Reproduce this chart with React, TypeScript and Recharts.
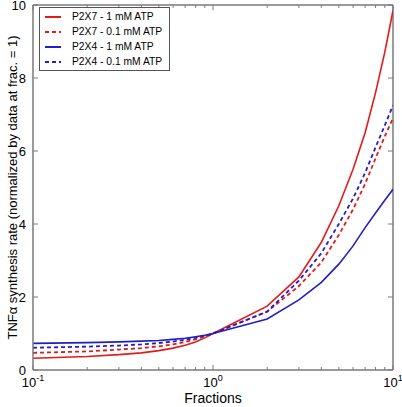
import React from "react";
import { LineChart, Line, XAxis, YAxis, Legend, ReferenceLine } from "recharts";

// fractions (log scale)
const fractions = [0.1, 0.2, 0.3, 0.4, 0.5, 0.6, 0.7, 0.8, 0.9, 1, 2, 3, 4, 5, 6, 7, 8, 9, 10];

const p2x7High = [0.32, 0.37, 0.42, 0.47, 0.53, 0.6, 0.68, 0.77, 0.88, 1.0, 1.75, 2.55, 3.5, 4.5, 5.5, 6.5, 7.6, 8.7, 9.85];
const p2x7Low = [0.47, 0.51, 0.56, 0.6, 0.65, 0.7, 0.77, 0.84, 0.92, 1.0, 1.6, 2.3, 2.95, 3.7, 4.4, 5.1, 5.8, 6.4, 6.9];
const p2x4High = [0.73, 0.75, 0.77, 0.79, 0.81, 0.84, 0.87, 0.91, 0.95, 1.0, 1.4, 1.92, 2.4, 2.9, 3.4, 3.9, 4.3, 4.65, 4.95];
const p2x4Low = [0.61, 0.64, 0.67, 0.7, 0.74, 0.78, 0.83, 0.88, 0.94, 1.0, 1.6, 2.45, 3.2, 4.0, 4.7, 5.4, 6.1, 6.7, 7.25];

const seriesNames = ["P2X7 - 1 mM ATP", "P2X7 - 0.1 mM ATP", "P2X4 - 1 mM ATP", "P2X4 - 0.1 mM ATP"];

const majorTicks = [0.1, 1, 10];
const minorTicks = [0.2, 0.3, 0.4, 0.5, 0.6, 0.7, 0.8, 0.9, 2, 3, 4, 5, 6, 7, 8, 9];
const yTicks = [0, 2, 4, 6, 8, 10];
const exponents: Record<number, string> = { 0.1: "-1", 1: "0", 10: "1" };

const RED = "#e31a1c";
const BLUE = "#1f1fc8";
const AXIS = "#7a7a7a";
const FONT = "Liberation Sans, Arial, sans-serif";

const data = fractions.map((f, i) => ({
  f,
  a: p2x7High[i],
  b: p2x7Low[i],
  c: p2x4High[i],
  d: p2x4Low[i],
}));

const isMajor = (v: number) => majorTicks.includes(v);

// tickSize/tickMargin are 0, so x/y below sit on the axis line
const BottomTick = (props: any) => {
  const { x, y, payload } = props;
  const v = payload.value;
  const len = isMajor(v) ? 5 : 3;
  return (
    <g>
      <line x1={x} x2={x} y1={y} y2={y - len} stroke={AXIS} strokeWidth={1} />
      {isMajor(v) && (
        <text x={x} y={y + 17} textAnchor="middle" fontSize={13} fontFamily={FONT} fill="#000">
          10
          <tspan fontSize={9} dy={-6}>{exponents[v]}</tspan>
        </text>
      )}
    </g>
  );
};

const LeftTick = (props: any) => {
  const { x, y, payload } = props;
  return (
    <g>
      <line x1={x} x2={x + 5} y1={y} y2={y} stroke={AXIS} strokeWidth={1} />
      <text x={x - 7} y={y + 5} textAnchor="end" fontSize={13} fontFamily={FONT} fill="#000">
        {payload.value}
      </text>
    </g>
  );
};

const YLabel = (props: any) => {
  const { viewBox } = props;
  const cx = viewBox.x + 12;
  const cy = viewBox.y + viewBox.height / 2;
  return (
    <text
      x={cx}
      y={cy}
      transform={`rotate(-90, ${cx}, ${cy})`}
      textAnchor="middle"
      dominantBaseline="central"
      fontSize={13}
      fontFamily={FONT}
      fill="#000"
    >
      TNFα synthesis rate (normalized by data at frac. = 1)
    </text>
  );
};

const LegendBox = (props: any) => {
  const items = (props.payload || [])
    .filter((p: any) => seriesNames.includes(p.value))
    .sort((p: any, q: any) => seriesNames.indexOf(p.value) - seriesNames.indexOf(q.value));
  return (
    <div
      style={{
        border: "1px solid #555",
        background: "#fff",
        padding: "1px 7px 1px 5px",
        fontFamily: FONT,
        fontSize: 10.3,
        width: "fit-content",
      }}
    >
      {items.map((entry: any) => (
        <div key={entry.value} style={{ display: "flex", alignItems: "center", height: 15 }}>
          <svg width={20} height={10} style={{ marginRight: 7 }}>
            <line
              x1={0}
              x2={16}
              y1={5}
              y2={5}
              stroke={entry.color}
              strokeWidth={2}
              strokeDasharray={entry.payload.strokeDasharray}
            />
          </svg>
          <span style={{ color: "#000", whiteSpace: "nowrap" }}>{entry.value}</span>
        </div>
      ))}
    </div>
  );
};

// inward tick lengths for the top and right frame edges, in data units
const topTickLen = (v: number) => (isMajor(v) ? 0.14 : 0.08);
const rightTickX = 9.38;

export default function App() {
  return (
    <div style={{ position: "absolute", left: 0, top: 0, background: "#fff" }}>
      <LineChart width={402} height={407} data={data} margin={{ top: 5, right: 9, bottom: 0, left: 0 }}>
        <XAxis
          dataKey="f"
          type="number"
          scale="log"
          domain={[0.1, 10]}
          ticks={[...majorTicks, ...minorTicks]}
          interval={0}
          allowDataOverflow
          height={37}
          axisLine={{ stroke: AXIS, strokeWidth: 1.5 }}
          tickLine={false}
          tickSize={0}
          tickMargin={0}
          tick={<BottomTick />}
          label={{ value: "Fractions", position: "insideBottom", offset: 4, fontSize: 14, fontFamily: FONT, fill: "#000" }}
        />
        <YAxis
          type="number"
          domain={[0, 10]}
          ticks={yTicks}
          interval={0}
          width={33}
          axisLine={{ stroke: AXIS, strokeWidth: 1.5 }}
          tickLine={false}
          tickSize={0}
          tickMargin={0}
          tick={<LeftTick />}
          label={<YLabel />}
        />
        {/* top and right frame edges with inward ticks */}
        <ReferenceLine y={10} stroke={AXIS} strokeWidth={1.5} ifOverflow="visible" />
        <ReferenceLine x={10} stroke={AXIS} strokeWidth={1.5} ifOverflow="visible" />
        {[...majorTicks, ...minorTicks].map((t) => (
          <ReferenceLine
            key={"t" + t}
            segment={[{ x: t, y: 10 }, { x: t, y: 10 - topTickLen(t) }]}
            stroke={AXIS}
            strokeWidth={1}
            ifOverflow="visible"
          />
        ))}
        {yTicks.map((t) => (
          <ReferenceLine
            key={"r" + t}
            segment={[{ x: rightTickX, y: t }, { x: 10, y: t }]}
            stroke={AXIS}
            strokeWidth={1}
            ifOverflow="visible"
          />
        ))}
        <Legend
          layout="vertical"
          verticalAlign="middle"
          align="center"
          content={<LegendBox />}
          wrapperStyle={{ left: 39, top: 7, width: "auto", height: "auto" }}
        />
        <Line type="linear" dataKey="a" name={seriesNames[0]} stroke={RED} strokeWidth={1.6} dot={false} isAnimationActive={false} />
        <Line type="linear" dataKey="b" name={seriesNames[1]} stroke={RED} strokeWidth={1.8} strokeDasharray="4 3" dot={false} isAnimationActive={false} />
        <Line type="linear" dataKey="c" name={seriesNames[2]} stroke={BLUE} strokeWidth={1.6} dot={false} isAnimationActive={false} />
        <Line type="linear" dataKey="d" name={seriesNames[3]} stroke={BLUE} strokeWidth={1.8} strokeDasharray="4 3" dot={false} isAnimationActive={false} />
      </LineChart>
    </div>
  );
}
